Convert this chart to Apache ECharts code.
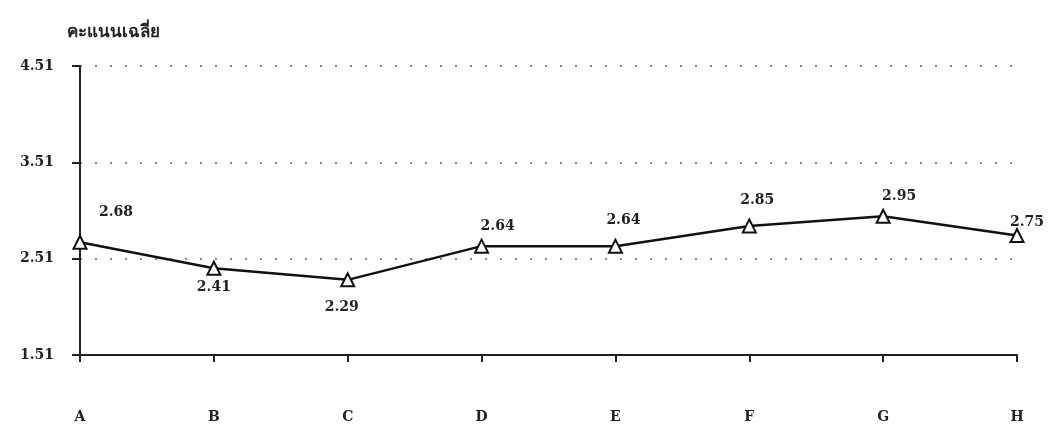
<!DOCTYPE html>
<html>
<head>
<meta charset="utf-8">
<script src="https://cdn.jsdelivr.net/npm/echarts@6/dist/echarts.min.js"></script>
<style>
html,body{margin:0;padding:0;background:#fff;}
#chart{width:1048px;height:433px;}
</style>
</head>
<body>
<div id="chart"></div>
<script>
const categories = ['A','B','C','D','E','F','G','H'];
const values = [2.68, 2.41, 2.29, 2.64, 2.64, 2.85, 2.95, 2.75];
const yTicks = [1.51, 2.51, 3.51, 4.51];
const yTitle = 'คะแนนเฉลี่ย';

const labelOffsets = [
  {position:'top', offset:[36,-10]},
  {position:'bottom', offset:[0,0]},
  {position:'bottom', offset:[-6,8]},
  {position:'top', offset:[16,0]},
  {position:'top', offset:[8,-6]},
  {position:'top', offset:[8,-6]},
  {position:'top', offset:[16,0]},
  {position:'top', offset:[10,6]}
];

const font = '"DejaVu Serif", "Liberation Serif", serif';
const chart = echarts.init(document.getElementById('chart'));
chart.setOption({
  animation:false,
  backgroundColor:'#ffffff',
  title:{
    text: yTitle, left:62, top:19,
    textStyle:{fontSize:17, fontWeight:'bold', color:'#222', fontFamily:font}
  },
  grid:{left:80, right:31, top:66, bottom:78},
  xAxis:{
    type:'category', data:categories, boundaryGap:false,
    axisLine:{lineStyle:{color:'#222', width:2}},
    axisTick:{show:true, alignWithLabel:true, length:7, lineStyle:{color:'#222', width:2}},
    axisLabel:{margin:55, color:'#222', fontSize:14, fontWeight:'bold', fontFamily:font},
    splitLine:{show:false}
  },
  yAxis:{
    type:'value', min:yTicks[0], max:yTicks[yTicks.length-1], interval:1,
    axisLine:{show:true, lineStyle:{color:'#222', width:2}},
    axisTick:{show:true, length:8, lineStyle:{color:'#222', width:2}},
    axisLabel:{margin:26, color:'#222', fontSize:14, fontWeight:'bold', fontFamily:font,
      formatter:v=>Number(v).toFixed(2)},
    splitLine:{show:true, lineStyle:{color:'#888', width:2, type:[2,13]}}
  },
  series:[{
    type:'line',
    data: values.map((v,i)=>({value:v, label:Object.assign({show:true}, labelOffsets[i])})),
    symbol:'triangle', symbolSize:13,
    lineStyle:{color:'#111', width:2.5},
    itemStyle:{color:'#fff', borderColor:'#111', borderWidth:2},
    label:{show:true, color:'#222', fontSize:14, fontWeight:'bold', fontFamily:font,
      formatter:p=>p.value.toFixed(2)}
  }]
});
</script>
</body>
</html>
